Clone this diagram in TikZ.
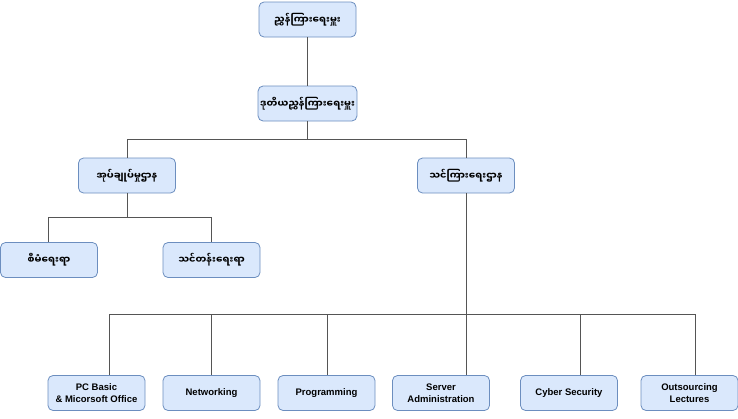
\documentclass[tikz,border=0pt]{standalone}
\usepackage{fontspec}
\setmainfont{Liberation Sans}
\newfontfamily\mmfont[Script=Myanmar]{Noto Sans Myanmar UI}
\usetikzlibrary{positioning}
\definecolor{boxfill}{HTML}{DAE8FC}
\definecolor{boxline}{HTML}{6C8EBF}
\definecolor{linegray}{HTML}{555555}

\begin{document}
\begin{tikzpicture}[x=1pt,y=-1pt,
  unit/.style={draw=boxline,fill=boxfill,rounded corners=5pt,line width=0.8pt,
               minimum width=97pt,minimum height=35pt,inner sep=2pt,align=center,
               font=\bfseries\fontsize{9.5}{11.5}\selectfont},
  mm/.style={unit,font=\mmfont\bfseries\fontsize{9.7}{11.5}\selectfont},
  wire/.style={draw=linegray,line width=0.8pt}]
  \useasboundingbox (0,0) rectangle (738,418);
  % top levels
  \node[mm] (dir) at (307.5,19.5) {ညွှန်ကြားရေးမှူး};
  \node[mm] (dep) at (307.5,103.5) {ဒုတိယညွှန်ကြားရေးမှူး};
  \node[mm] (adm) at (127,175.5) {အုပ်ချုပ်မှုဌာန};
  \node[mm] (tch) at (466,175.5) {သင်ကြားရေးဌာန};
  \node[mm] (mgt) at (49,260) {စီမံရေးရာ};
  \node[mm] (trn) at (211.5,260) {သင်တန်းရေးရာ};
  % courses
  \node[unit] (pc) at (96.5,393) {PC Basic\\\& Micorsoft Office};
  \node[unit] (net) at (211.5,393) {Networking};
  \node[unit] (prg) at (326.5,393) {Programming};
  \node[unit] (srv) at (441,393) {Server\\Administration};
  \node[unit] (cyb) at (569,393) {Cyber Security};
  \node[unit] (out) at (689.5,393) {Outsourcing\\Lectures};
  % bus lines
  \coordinate (b1) at (0,139);
  \coordinate (b2) at (0,217);
  \coordinate (b3) at (0,314);
  \draw[wire] (dir) -- (dep);
  \draw[wire] (dep.south) -- (dep.south |- b1) -| (adm.north);
  \draw[wire] (dep.south |- b1) -| (tch.north);
  \draw[wire] (adm.south) -- (adm.south |- b2) -| ([xshift=-1pt]mgt.north);
  \draw[wire] (adm.south |- b2) -| (trn.north);
  \draw[wire] (tch.south) -- (tch.south |- b3) -| ([xshift=12.5pt]pc.north);
  \draw[wire] (tch.south |- b3) -| ([xshift=0.5pt]prg.north);
  \draw[wire] ([xshift=0.5pt]prg.north |- b3) -| (net.north);
  \draw[wire] (tch.south |- b3) -- ([xshift=25pt]srv.north);
  \draw[wire] (tch.south |- b3) -| ([xshift=11pt]cyb.north);
  \draw[wire] (tch.south |- b3) -| ([xshift=5.5pt]out.north);
\end{tikzpicture}
\end{document}
